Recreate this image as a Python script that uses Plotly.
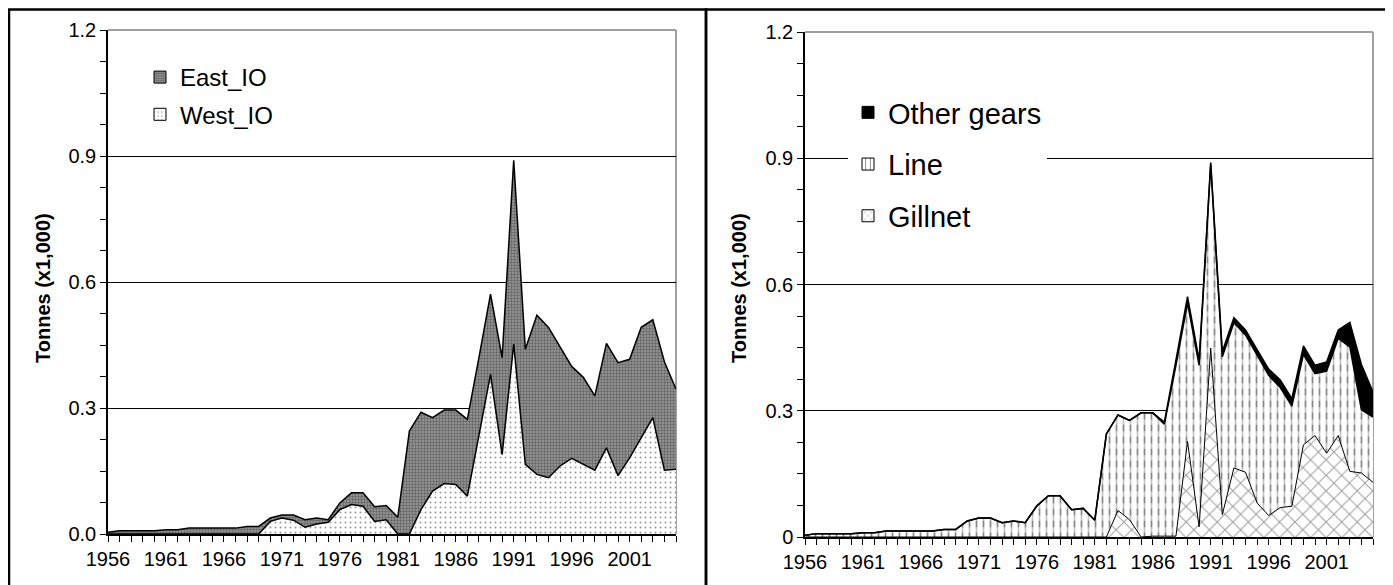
import plotly.graph_objects as go
import numpy as np

# ---------------- data (tonnes x1,000) ----------------
years = list(range(1956, 2006))

west_io = [0, 0, 0, 0, 0, 0, 0, 0, 0, 0,
           0, 0, 0, 0, 0.030, 0.038, 0.033, 0.016, 0.024, 0.028,
           0.058, 0.070, 0.066, 0.030, 0.034, 0, 0, 0.058, 0.102, 0.120,
           0.118, 0.090, 0.235, 0.380, 0.189, 0.452, 0.166, 0.142, 0.134, 0.162,
           0.180, 0.166, 0.152, 0.205, 0.139, 0.181, 0.229, 0.277, 0.152, 0.154]

east_io = [0.004, 0.008, 0.008, 0.008, 0.008, 0.010, 0.010, 0.014, 0.014, 0.014,
           0.014, 0.014, 0.018, 0.018, 0.008, 0.007, 0.012, 0.018, 0.014, 0.006,
           0.016, 0.028, 0.032, 0.035, 0.034, 0.040, 0.245, 0.232, 0.175, 0.175,
           0.177, 0.183, 0.185, 0.191, 0.231, 0.438, 0.274, 0.379, 0.358, 0.282,
           0.219, 0.207, 0.177, 0.249, 0.269, 0.235, 0.263, 0.233, 0.258, 0.191]

gillnet = [0, 0, 0, 0, 0, 0, 0, 0, 0, 0,
           0, 0, 0, 0, 0, 0, 0, 0, 0, 0,
           0, 0, 0, 0, 0, 0, 0, 0.063, 0.041, 0,
           0.002, 0.002, 0.002, 0.227, 0.024, 0.449, 0.053, 0.164, 0.154, 0.081,
           0.051, 0.070, 0.073, 0.219, 0.241, 0.199, 0.241, 0.156, 0.152, 0.130]

line_gear = [0.004, 0.008, 0.008, 0.008, 0.008, 0.010, 0.010, 0.014, 0.014, 0.014,
             0.014, 0.014, 0.018, 0.018, 0.038, 0.045, 0.045, 0.034, 0.038, 0.034,
             0.074, 0.098, 0.098, 0.065, 0.068, 0.040, 0.245, 0.227, 0.236, 0.295,
             0.293, 0.266, 0.406, 0.329, 0.384, 0.436, 0.375, 0.345, 0.326, 0.351,
             0.333, 0.285, 0.238, 0.215, 0.147, 0.195, 0.231, 0.296, 0.150, 0.155]

other_gears = [0, 0, 0, 0, 0, 0, 0, 0, 0, 0,
               0, 0, 0, 0, 0, 0, 0, 0, 0, 0,
               0, 0, 0, 0, 0, 0, 0, 0, 0, 0,
               0, 0.005, 0.012, 0.015, 0.012, 0.005, 0.012, 0.012, 0.012, 0.012,
               0.015, 0.018, 0.018, 0.020, 0.020, 0.022, 0.020, 0.058, 0.108, 0.060]

xtick_years = [1956, 1961, 1966, 1971, 1976, 1981, 1986, 1991, 1996, 2001]
ytick_vals = [0, 0.3, 0.6, 0.9, 1.2]
ytick_text_left = ["0.0", "0.3", "0.6", "0.9", "1.2"]
ytick_text_right = ["0", "0.3", "0.6", "0.9", "1.2"]

# ---------------- layout helpers ----------------
W, H = 1393, 585
OFF = 8  # page body margin
FONT = "Liberation Sans, Arial, sans-serif"


def fx(p):
    return (p - OFF) / W


def fy(p):
    return 1 - (p - OFF) / H


w = np.array(west_io)
e = np.array(east_io)
g = np.array(gillnet)
ln = np.array(line_gear)
o = np.array(other_gears)

EAST_PAT = dict(shape=".", fgcolor="#2e2e2e", bgcolor="#9c9c9c", size=3, solidity=0.5)
WEST_PAT = dict(shape=".", fgcolor="#333333", bgcolor="white", size=5, solidity=0.12)
GILL_PAT = dict(shape="x", fgcolor="#3a3a3a", bgcolor="white", size=11, solidity=0.17)
LINE_PAT = dict(shape="|", fgcolor="#111111", bgcolor="white", size=7, solidity=0.25)

fig = go.Figure()

# ---------------- left panel ----------------
fig.add_trace(go.Scatter(
    x=years, y=w, mode="lines", fill="tozeroy", xaxis="x", yaxis="y",
    line=dict(width=0, color="black"), fillcolor="white", fillpattern=WEST_PAT,
    showlegend=False, hoverinfo="skip"))
fig.add_trace(go.Scatter(
    x=years, y=w + e, mode="lines", fill="tonexty", xaxis="x", yaxis="y",
    line=dict(width=0, color="black"), fillcolor="#999999", fillpattern=EAST_PAT,
    showlegend=False, hoverinfo="skip"))
for yy in (w, w + e):
    fig.add_trace(go.Scatter(x=years, y=yy, mode="lines", xaxis="x", yaxis="y",
                             line=dict(width=1.5, color="black"),
                             showlegend=False, hoverinfo="skip"))

# legend entries (left)
fig.add_trace(go.Bar(x=[None], y=[None], name="East_IO", xaxis="x", yaxis="y",
                     legend="legend", legendgroup="east",
                     marker=dict(color="#999999", line=dict(color="black", width=1),
                                 pattern=EAST_PAT)))
fig.add_trace(go.Bar(x=[None], y=[None], name="West_IO", xaxis="x", yaxis="y",
                     legend="legend", legendgroup="west",
                     marker=dict(color="white", line=dict(color="black", width=1),
                                 pattern=WEST_PAT)))

# ---------------- right panel ----------------
fig.add_trace(go.Scatter(
    x=years, y=g, mode="lines", fill="tozeroy", xaxis="x2", yaxis="y2",
    line=dict(width=0, color="black"), fillcolor="white", fillpattern=GILL_PAT,
    showlegend=False, hoverinfo="skip"))
fig.add_trace(go.Scatter(
    x=years, y=g + ln, mode="lines", fill="tonexty", xaxis="x2", yaxis="y2",
    line=dict(width=0, color="black"), fillcolor="white", fillpattern=LINE_PAT,
    showlegend=False, hoverinfo="skip"))
# baseline + white horizontal breaks to turn the vertical lines into dashes
fig.add_trace(go.Scatter(
    x=years, y=g, mode="lines", xaxis="x2", yaxis="y2",
    line=dict(width=0, color="rgba(0,0,0,0)"), showlegend=False, hoverinfo="skip"))
fig.add_trace(go.Scatter(
    x=years, y=g + ln, mode="lines", fill="tonexty", xaxis="x2", yaxis="y2",
    line=dict(width=0, color="rgba(0,0,0,0)"), fillcolor="rgba(0,0,0,0)",
    fillpattern=dict(shape="-", fgcolor="white", bgcolor="rgba(0,0,0,0)", size=12, solidity=0.45),
    showlegend=False, hoverinfo="skip"))
fig.add_trace(go.Scatter(
    x=years, y=g + ln + o, mode="lines", fill="tonexty", xaxis="x2", yaxis="y2",
    line=dict(width=0, color="black"), fillcolor="black",
    showlegend=False, hoverinfo="skip"))
for yy, lw in ((g, 1.0), (g + ln, 1.5), (g + ln + o, 1.5)):
    fig.add_trace(go.Scatter(x=years, y=yy, mode="lines", xaxis="x2", yaxis="y2",
                             line=dict(width=lw, color="black"),
                             showlegend=False, hoverinfo="skip"))

# legend entries (right)
fig.add_trace(go.Bar(x=[None], y=[None], name="Other gears", xaxis="x2", yaxis="y2",
                     legend="legend2", legendgroup="other",
                     marker=dict(color="black", line=dict(color="black", width=1))))
fig.add_trace(go.Bar(x=[None], y=[None], name="Line", xaxis="x2", yaxis="y2",
                     legend="legend2", legendgroup="line",
                     marker=dict(color="white", line=dict(color="black", width=1),
                                 pattern=dict(shape="|", fgcolor="#222222", bgcolor="white",
                                              size=6, solidity=0.2))))
fig.add_trace(go.Bar(x=[None], y=[None], name="Gillnet", xaxis="x2", yaxis="y2",
                     legend="legend2", legendgroup="gill",
                     marker=dict(color="white", line=dict(color="black", width=1),
                                 pattern=dict(shape="x", fgcolor="#444444", bgcolor="white",
                                              size=6, solidity=0.15))))

# ---------------- axes ----------------
def xaxis_cfg(x0, x1, anchor):
    return dict(domain=[fx(x0), fx(x1)], anchor=anchor, range=[1956, 2005],
                automargin=False,
                tickmode="array", tickvals=xtick_years, ticks="outside", ticklen=6,
                tickcolor="black", tickwidth=1, showline=True, linecolor="black",
                linewidth=1.5, showgrid=False, zeroline=False,
                tickfont=dict(size=20, color="black", family=FONT),
                minor=dict(tickvals=years, ticks="outside", ticklen=6,
                           tickcolor="black", tickwidth=1, showgrid=False))


def yaxis_cfg(y_top, y_bot, anchor, ticktext):
    return dict(domain=[fy(y_bot), fy(y_top)], anchor=anchor, range=[0, 1.2],
                automargin=False,
                tickmode="array", tickvals=ytick_vals, ticktext=ticktext,
                ticks="outside", ticklen=6, tickcolor="black", tickwidth=1,
                showline=True, linecolor="black", linewidth=1.5,
                showgrid=True, gridcolor="black", gridwidth=1, zeroline=False,
                tickfont=dict(size=20, color="black", family=FONT),
                minor=dict(dtick=0.075, tick0=0, ticks="outside", ticklen=6,
                           tickcolor="black", tickwidth=1, showgrid=False))


fig.update_layout(
    width=W, height=H,
    margin=dict(l=0, r=0, t=0, b=0, pad=0, autoexpand=False),
    paper_bgcolor="white", plot_bgcolor="white",
    font=dict(family=FONT, color="black"),
    barmode="overlay",
    xaxis=xaxis_cfg(108, 676, "y"),
    yaxis=yaxis_cfg(30, 534, "x", ytick_text_left),
    xaxis2=xaxis_cfg(805, 1373, "y2"),
    yaxis2=yaxis_cfg(32, 537, "x2", ytick_text_right),
    legend=dict(x=fx(140), y=fy(55), xanchor="left", yanchor="top",
                bgcolor="white", borderwidth=0, traceorder="grouped",
                tracegroupgap=3, font=dict(size=24, family=FONT, color="black")),
    legend2=dict(x=fx(848), y=fy(87), xanchor="left", yanchor="top",
                 bgcolor="white", borderwidth=0, traceorder="grouped",
                 tracegroupgap=11, font=dict(size=29, family=FONT, color="black")),
    showlegend=True,
)

# y-axis titles
for xc in (43, 739):
    fig.add_annotation(text="<b>Tonnes (x1,000)</b>", xref="paper", yref="paper",
                       x=fx(xc), y=fy(288), xanchor="center", yanchor="middle",
                       textangle=-90, showarrow=False,
                       font=dict(size=20, family=FONT, color="black"))

# plot-area borders (grey, top and right)
for xr, yr in (("x domain", "y domain"), ("x2 domain", "y2 domain")):
    fig.add_shape(type="line", xref=xr, yref=yr, x0=0, y0=1, x1=1, y1=1,
                  line=dict(color="#a0a0a0", width=2), layer="above")
    fig.add_shape(type="line", xref=xr, yref=yr, x0=1, y0=1, x1=1, y1=0,
                  line=dict(color="#a0a0a0", width=2), layer="below")

# panel frames
for x0, x1 in ((9, 706), (706, 1390)):
    fig.add_shape(type="rect", xref="paper", yref="paper",
                  x0=fx(x0), x1=fx(x1), y0=fy(640), y1=fy(9.5),
                  line=dict(color="black", width=2.5), fillcolor="rgba(0,0,0,0)",
                  layer="above")

fig.write_html("out.html", config={"displayModeBar": False})
